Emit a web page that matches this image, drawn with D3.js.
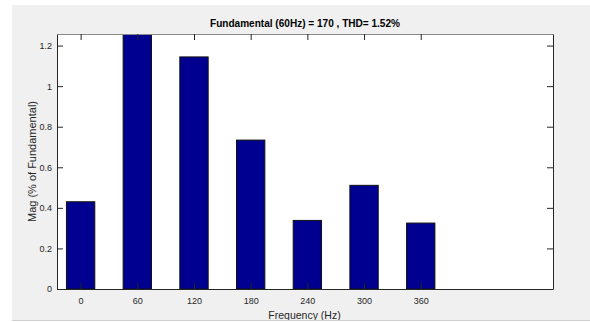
<!DOCTYPE html>
<html><head><meta charset="utf-8">
<script src="https://cdn.jsdelivr.net/npm/d3@7"></script>
<style>html,body{margin:0;padding:0;background:#fff;}svg{display:block;}</style>
</head><body>
<script>
const frequencies = [0, 60, 120, 180, 240, 300, 360];
const magnitudes = [0.43, 100, 1.144, 0.734, 0.338, 0.511, 0.325];
const xTicks = [0, 60, 120, 180, 240, 300, 360];
const yTicks = [0, 0.2, 0.4, 0.6, 0.8, 1, 1.2];
const titleText = "Fundamental (60Hz) = 170 , THD= 1.52%";
const xLabel = "Frequency (Hz)";
const yLabel = "Mag (% of Fundamental)";

const W = 590, H = 322;
const L = 57, R = 553, T = 34, B = 289;
const svg = d3.select("body").append("svg").attr("width", W).attr("height", H);
const font = "Liberation Sans, Arial, Helvetica, sans-serif";

svg.append("rect").attr("x", 12).attr("y", 5).attr("width", W - 12).attr("height", 315).attr("fill", "#f0f0f0");

const x = d3.scaleLinear().domain([-25, 500]).range([L, R]);
const y = d3.scaleLinear().domain([0, 1.257]).range([B, T]);

svg.append("rect").attr("x", L).attr("y", T).attr("width", R - L).attr("height", B - T).attr("fill", "#fff");

svg.append("defs").append("clipPath").attr("id", "clip")
  .append("rect").attr("x", L).attr("y", T).attr("width", R - L).attr("height", B - T);

const bw = x(30) - x(0);
svg.append("g").attr("clip-path", "url(#clip)")
  .selectAll("rect").data(frequencies).join("rect")
  .attr("x", (d) => x(d) - bw / 2)
  .attr("y", (d, i) => y(Math.min(magnitudes[i], 1.4)))
  .attr("width", bw)
  .attr("height", (d, i) => B - y(Math.min(magnitudes[i], 1.4)))
  .attr("fill", "#000090")
  .attr("stroke", "#111")
  .attr("stroke-width", 1);

const tl = 6;
const axB = svg.append("g").attr("transform", `translate(0,${B})`)
  .call(d3.axisBottom(x).tickValues(xTicks).tickSizeInner(-tl).tickSizeOuter(0).tickPadding(10));
const axT = svg.append("g").attr("transform", `translate(0,${T})`)
  .call(d3.axisTop(x).tickValues(xTicks).tickSizeInner(-tl).tickSizeOuter(0).tickFormat(""));
const axL = svg.append("g").attr("transform", `translate(${L},0)`)
  .call(d3.axisLeft(y).tickValues(yTicks).tickSizeInner(-tl).tickSizeOuter(0).tickPadding(5).tickFormat(d3.format("~g")));
const axR = svg.append("g").attr("transform", `translate(${R},0)`)
  .call(d3.axisRight(y).tickValues(yTicks).tickSizeInner(-tl).tickSizeOuter(0).tickFormat(""));

[axB, axT, axL, axR].forEach(g => {
  g.select(".domain").attr("stroke", "#262626").attr("stroke-width", 1);
  g.selectAll(".tick line").attr("stroke", "#262626");
  g.selectAll("text").attr("font-family", font).attr("font-size", 9).attr("fill", "#262626");
});
axT.select(".domain").attr("stroke", "#8a8a8a");
axB.selectAll("text").attr("dy", "0.5em");

svg.append("text").attr("x", (L + R) / 2).attr("y", 27).attr("text-anchor", "middle")
  .attr("font-family", font).attr("font-size", 11).attr("font-weight", "bold").attr("fill", "#000")
  .attr("textLength", 190).attr("lengthAdjust", "spacingAndGlyphs").text(titleText);

svg.append("text").attr("transform", `translate(35.5,${(T + B) / 2}) rotate(-90)`).attr("text-anchor", "middle")
  .attr("font-family", font).attr("font-size", 11).attr("fill", "#262626").text(yLabel);

svg.append("text").attr("x", 304.5).attr("y", 319).attr("text-anchor", "middle")
  .attr("font-family", font).attr("font-size", 10.5).attr("fill", "#262626").text(xLabel);

svg.append("rect").attr("x", 0).attr("y", 320).attr("width", W).attr("height", 2).attr("fill", "#fff");
svg.append("line").attr("x1", 12).attr("x2", W).attr("y1", 320.5).attr("y2", 320.5).attr("stroke", "#d0d0d0");
</script>
</body></html>
